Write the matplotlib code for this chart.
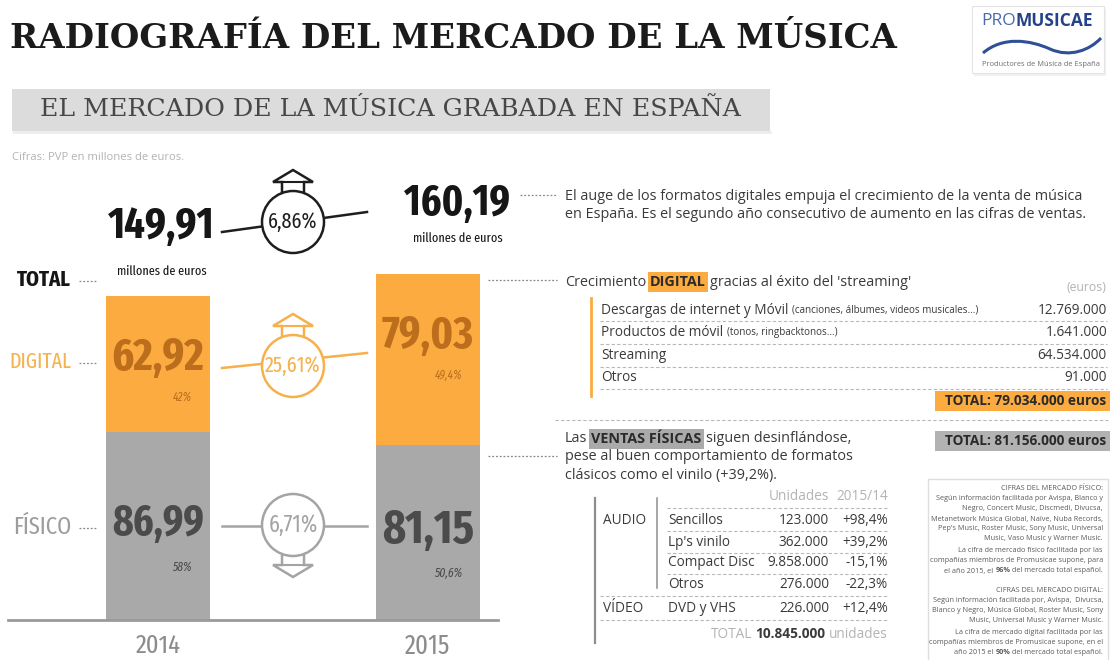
import os
import numpy as np
import matplotlib
matplotlib.use("Agg")
import matplotlib.pyplot as plt
from matplotlib import font_manager
from matplotlib.font_manager import FontProperties
from matplotlib.lines import Line2D
from matplotlib.patches import Rectangle, Ellipse, Polygon, PathPatch
from matplotlib.path import Path

# --- data (millones de euros) ---
years = ["2014", "2015"]
fisico = [86.99, 81.15]
digital = [62.92, 79.03]
totals = [149.91, 160.19]
share_digital = ["42%", "49,4%"]
share_fisico = ["58%", "50,6%"]
changes = [6.86, 25.61, -6.71]  # total, digital, fisico

digital_items = ["Descargas de internet y Móvil", "Productos de móvil", "Streaming", "Otros"]
digital_notes = ["(canciones, álbumes, videos musicales...)", "(tonos, ringbacktonos...)", "", ""]
digital_euros = [12769000, 1641000, 64534000, 91000]
digital_total = 79034000
fisico_total = 81156000

fis_groups = ["AUDIO", "", "", "", "VÍDEO"]
fis_items = ["Sencillos", "Lp's vinilo", "Compact Disc", "Otros", "DVD y VHS"]
fis_units = [123000, 362000, 9858000, 276000, 226000]
fis_var = [98.4, 39.2, -15.1, -22.3, 12.4]
fis_units_total = 10845000

# --- colours ---
ORANGE = "#fbab3f"
GREY = "#a9a9a9"
ORANGE_TXT = "#bd6e1d"
GREY_TXT = "#4b4b4b"
TXT = "#3a3a3a"
LIGHT = "#b3b3b3"

W, H = 1110, 660


def pick(fams):
    for f in fams:
        try:
            font_manager.findfont(FontProperties(family=f), fallback_to_default=False)
            return f
        except Exception:
            pass
    return "DejaVu Sans"


def narrow(weight=400, style="normal"):
    """narrowest installed condensed face close to the wanted weight"""
    cands = []
    for f in font_manager.fontManager.ttflist:
        key = (f.name + os.path.basename(f.fname)).lower().replace(" ", "").replace("-", "")
        if "narrow" not in key and "condensed" not in key:
            continue
        if f.style != style:
            continue
        w = f.weight if isinstance(f.weight, int) else font_manager.weight_dict.get(f.weight, 400)
        if "extracondensed" in key:
            rank = 0
        elif "semicondensed" in key:
            rank = 3
        elif "condensed" in key:
            rank = 1
        else:
            rank = 2
        cands.append((abs(w - weight) > 100, rank, abs(w - weight), f.fname))
    if not cands:
        if style != "normal":
            return narrow(weight)
        return FontProperties(family="DejaVu Sans", weight=weight, stretch="condensed")
    cands.sort()
    return FontProperties(fname=cands[0][3])


NB = narrow(700)
NR = narrow(400)
NI = narrow(400, "italic")
BODY = pick(["Open Sans", "Lato", "DejaVu Sans"])
SLAB = "DejaVu Serif"


def eur(v):
    return f"{v:.2f}".replace(".", ",")


def miles(v):
    return f"{v:,}".replace(",", ".")


fig = plt.figure(figsize=(W / 100, H / 100), dpi=100)
R = fig.canvas.get_renderer()


def fx(x):
    return x / W


def fy(y):
    return 1 - y / H


def txt(x, y, s, **kw):
    kw.setdefault("va", "center")
    return fig.text(fx(x), fy(y), s, **kw)


def width(t):
    return t.get_window_extent(R).width


def fit(t, w):
    t.set_fontsize(t.get_fontsize() * w / width(t))
    return t


def line(xs, ys, **kw):
    fig.add_artist(Line2D([fx(v) for v in xs], [fy(v) for v in ys],
                          transform=fig.transFigure, **kw))


def rect(x0, y0, x1, y1, **kw):
    fig.add_artist(Rectangle((fx(x0), fy(y1)), (x1 - x0) / W, (y1 - y0) / H,
                             transform=fig.transFigure, **kw))


def dashed(x0, x1, y):
    line([x0, x1], [y, y], color="#b8b8b8", lw=0.8, ls=(0, (3, 2)))


def dots(x0, x1, y, c="#888888"):
    line([x0, x1], [y, y], color=c, lw=0.9, ls=(0, (1.5, 1.5)))


def run(x, y, parts, size, align="left", gap=True, **common):
    """place text pieces one after another, separated by a space"""
    ts = []
    for s, kw in parts:
        props = {"size": size, "ha": "left", **common, **kw}
        ts.append(txt(0, y, s, **props))
    sp = 0.27 * size * 100 / 72 if gap else 0
    total = sum(width(t) for t in ts) + sp * (len(ts) - 1)
    cur = x if align == "left" else x - total
    for t in ts:
        t.set_x(fx(cur))
        cur += width(t) + sp
    return ts


# --- header ---
t = txt(10, 38, "RADIOGRAFÍA DEL MERCADO DE LA MÚSICA", family=SLAB,
        weight="bold", color="#1b1b1b", size=26)
fit(t, 887)
rect(12, 89, 770, 131, fc="#dcdcdc", ec="none")
line([14, 770], [132, 132], color="#ececec", lw=2)
t = txt(40, 110, "EL MERCADO DE LA MÚSICA GRABADA EN ESPAÑA", family=SLAB,
        color="#474747", size=18)
fit(t, 702)
t = txt(12, 158, "Cifras: PVP en millones de euros.", family=BODY, color=LIGHT, size=8)
fit(t, 173)

# logo
rect(974, 9, 1106, 76, fc="#f1f1f1", ec="none")
rect(972, 6, 1104, 73, fc="white", ec="#e4e4e4", lw=0.8)
run(981, 21, [("PRO", {"color": "#4a6aa8"}),
              ("MUSICAE", {"color": "#23428a", "weight": "bold"})],
    size=12.5, gap=False, family=BODY)
wave = [(983, 53), (1003, 36), (1030, 40), (1050, 49), (1070, 58), (1090, 50), (1101, 38)]
fig.add_artist(PathPatch(Path([(fx(a), fy(b)) for a, b in wave],
                              [Path.MOVETO] + [Path.CURVE4] * 6),
                         fc="none", ec="#2f4f96", lw=2.2, transform=fig.transFigure))
t = txt(982, 65, "Productores de Música de España", family=BODY, color="#6d6d6d", size=4)
fit(t, 117)

# --- stacked bars ---
ax = fig.add_axes([0, fy(620), fx(540), (620 - 160) / H])
ax.set_xlim(-0.585, 1.415)
ax.set_ylim(0, (620 - 160) / 2.16)
ax.axis("off")
xs = np.arange(len(years))
bw = 0.385
ax.bar(xs, fisico, width=bw, color=GREY, zorder=1)
ax.bar(xs, digital, width=bw, bottom=fisico, color=ORANGE, zorder=1)
line([8, 498], [620, 620], color="#9a9a9a", lw=2)

total_dx = [3, 29]
sub_dy = [25, 36]
for i in xs:
    top = fisico[i] + digital[i]
    t = ax.annotate(eur(digital[i]), xy=(i, top), xytext=(0, -62),
                    textcoords="offset pixels", ha="center", va="center",
                    color=ORANGE_TXT, fontproperties=NB)
    fit(t, 92)
    ax.annotate(share_digital[i], xy=(i + bw / 2, top), xytext=(-18, -101),
                textcoords="offset pixels", ha="right", va="center",
                color=ORANGE_TXT, fontproperties=NI, size=9)
    t = ax.annotate(eur(fisico[i]), xy=(i, fisico[i] / 2), xytext=(0, 2),
                    textcoords="offset pixels", ha="center", va="center",
                    color=GREY_TXT, fontproperties=NB)
    fit(t, 92)
    ax.annotate(share_fisico[i], xy=(i + bw / 2, fisico[i] / 2), xytext=(-18, -41),
                textcoords="offset pixels", ha="right", va="center",
                color=GREY_TXT, fontproperties=NI, size=9)
    t = ax.annotate(eur(totals[i]), xy=(i, totals[i]), xytext=(total_dx[i], 70),
                    textcoords="offset pixels", ha="center", va="center",
                    color="#161616", fontproperties=NB)
    fit(t, 106)
    t = ax.annotate("millones de euros", xy=(i, totals[i]), xytext=(total_dx[i] + 1, sub_dy[i]),
                    textcoords="offset pixels", ha="center", va="center",
                    color="#161616", fontproperties=NR)
    fit(t, 90)
    t = ax.annotate(years[i], xy=(i, 0), xytext=(0, -26), textcoords="offset pixels",
                    ha="center", va="center", color="#8c8c8c", fontproperties=NR)
    fit(t, 45)

# row labels
for label, y, c, fp, w in [("TOTAL", 280, "#161616", NB, 54),
                           ("DIGITAL", 362, "#f5b24e", NR, 62),
                           ("FÍSICO", 527, "#9d9d9d", NR, 58)]:
    t = txt(71, y, label, ha="right", color=c, fontproperties=fp)
    fit(t, w)
    dots(79, 97, y + 1)

# change circles
r = 31
circles = [(293, 222, "#1e1e1e", "up", (222, 232), (367, 212)),
           (293, 366, "#f6b04c", "up", (222, 368), (367, 353)),
           (293, 525, "#a4a4a4", "down", (222, 526), (367, 526))]
for v, (cx, cy, c, d, p0, p1) in zip(changes, circles):
    line([p0[0], p1[0]], [p0[1], p1[1]], color=c, lw=1.8, zorder=2)
    s = 1 if d == "down" else -1
    yb = cy + s * (r + 9)
    pts = [(cx - 11, cy), (cx - 11, yb), (cx - 20, yb), (cx, cy + s * (r + 21)),
           (cx + 20, yb), (cx + 11, yb), (cx + 11, cy)]
    fig.add_artist(Polygon([(fx(a), fy(b)) for a, b in pts], closed=True, fc="white",
                           ec=c, lw=1.8, transform=fig.transFigure, zorder=3))
    line([cx - 11, cx + 11], [yb, yb], color=c, lw=1.5, zorder=3)
    fig.add_artist(Ellipse((fx(cx), fy(cy)), 2 * r / W, 2 * r / H, fc="white", ec=c,
                           lw=1.8, transform=fig.transFigure, zorder=4))
    t = txt(cx, cy, f"{abs(v):.2f}%".replace(".", ","), ha="center", color=c,
            fontproperties=NR, zorder=5)
    fit(t, 49 if abs(v) < 10 else 55)

# --- right hand text ---
for y in (195, 280, 456):
    dots(520 if y == 195 else 488, 557, y)

t = txt(565, 196, "El auge de los formatos digitales empuja el crecimiento de la venta de música",
        family=BODY, color=TXT, size=10)
fit(t, 518)
fs = t.get_fontsize()
txt(565, 215, "en España. Es el segundo año consecutivo de aumento en las cifras de ventas.",
    family=BODY, color=TXT, size=fs)

run(565, 282, [("Crecimiento", {}),
               ("DIGITAL", {"weight": "bold", "color": "#2a2a2a",
                            "bbox": dict(boxstyle="square,pad=0.18", fc=ORANGE, ec="none")}),
               ("gracias al éxito del 'streaming'", {})],
    size=fs, family=BODY, color=TXT)
txt(1106, 288, "(euros)", ha="right", family=BODY, color=LIGHT, size=fs * 0.85)

line([591, 591], [298, 396], color=ORANGE, lw=2)
fs_t = fs * 0.95
for i, (item, note, val) in enumerate(zip(digital_items, digital_notes, digital_euros)):
    y = 310 + 22.6 * i
    parts = [(item, {})]
    if note:
        parts.append((note, {"size": fs_t * 0.72}))
    run(601, y, parts, size=fs_t, family=BODY, color=TXT)
    txt(1107, y, miles(val), ha="right", family=BODY, color=TXT, size=fs_t)
    dashed(600, 1107, y + 11.5)

rect(935, 391, 1110, 411, fc=ORANGE, ec="none")
txt(1106, 401, f"TOTAL: {miles(digital_total)} euros", ha="right", family=BODY,
    weight="bold", color="#2a2a2a", size=fs_t)
dashed(555, 1108, 420)
rect(935, 431, 1110, 451, fc="#b2b2b2", ec="none")
txt(1106, 441, f"TOTAL: {miles(fisico_total)} euros", ha="right", family=BODY,
    weight="bold", color="#2a2a2a", size=fs_t)

run(565, 439, [("Las", {}),
               ("VENTAS FÍSICAS", {"weight": "bold", "color": "#2a2a2a",
                                   "bbox": dict(boxstyle="square,pad=0.18", fc="#aaaaaa",
                                                ec="none")}),
               ("siguen desinflándose,", {})],
    size=fs, family=BODY, color=TXT)
txt(565, 457, "pese al buen comportamiento de formatos", family=BODY, color=TXT, size=fs)
txt(565, 475, "clásicos como el vinilo (+39,2%).", family=BODY, color=TXT, size=fs)

# physical table
line([595, 595], [498, 643], color="#8e8e8e", lw=1.6)
line([657, 657], [498, 588], color="#8e8e8e", lw=1.1)
txt(829, 497, "Unidades", ha="right", family=BODY, color=LIGHT, size=fs_t)
txt(888, 497, "2015/14", ha="right", family=BODY, color=LIGHT, size=fs_t)
dashed(667, 888, 508)
row_y = [520, 542, 563, 584, 608]
for i, y in enumerate(row_y):
    if fis_groups[i]:
        txt(603, y, fis_groups[i], family=BODY, color=TXT, size=fs_t)
    txt(668, y, fis_items[i], family=BODY, color=TXT, size=fs_t)
    txt(829, y, miles(fis_units[i]), ha="right", family=BODY, color=TXT, size=fs_t)
    txt(888, y, f"{fis_var[i]:+.1f}%".replace(".", ","), ha="right", family=BODY,
        color=TXT, size=fs_t)
    if i < 3:
        dashed(667, 888, y + 10.5)
    else:
        dashed(600, 888, y + 11.5)
run(888, 634, [("TOTAL", {"color": LIGHT}),
               (miles(fis_units_total), {"weight": "bold", "color": TXT}),
               ("unidades", {"color": LIGHT})],
    size=fs_t, align="right", family=BODY)

# notes box
rect(928, 479, 1108, 662, fc="white", ec="#dedede", lw=1)
N = {}
B = {"weight": "bold"}
notes = [
    (489, [("CIFRAS DEL MERCADO FÍSICO:", N)]),
    (499, [("Según información facilitada por Avispa, Blanco y", N)]),
    (509, [("Negro, Concert Music, Discmedi, Divucsa,", N)]),
    (519, [("Metanetwork Música Global, Naïve, Nuba Records,", N)]),
    (529, [("Pep's Music, Roster Music, Sony Music, Universal", N)]),
    (539, [("Music, Vaso Music y Warner Music.", N)]),
    (551, [("La cifra de mercado físico facilitada por las", N)]),
    (561, [("compañías miembros de Promusicae supone, para", N)]),
    (571, [("el año 2015, el", N), ("96%", B), ("del mercado total español.", N)]),
    (590, [("CIFRAS DEL MERCADO DIGITAL:", N)]),
    (600, [("Según información facilitada por, Avispa,  Divucsa,", N)]),
    (610, [("Blanco y Negro, Música Global, Roster Music, Sony", N)]),
    (620, [("Music, Universal Music y Warner Music.", N)]),
    (633, [("La cifra de mercado digital facilitada por las", N)]),
    (643, [("compañías miembros de Promusicae supone, en el", N)]),
    (653, [("año 2015 el", N), ("90%", B), ("del mercado total español.", N)]),
]
for y, parts in notes:
    run(1103, y, parts, size=5.2, align="right", family=BODY, color="#5a5a5a")

fig.savefig("out.png", dpi=100)
